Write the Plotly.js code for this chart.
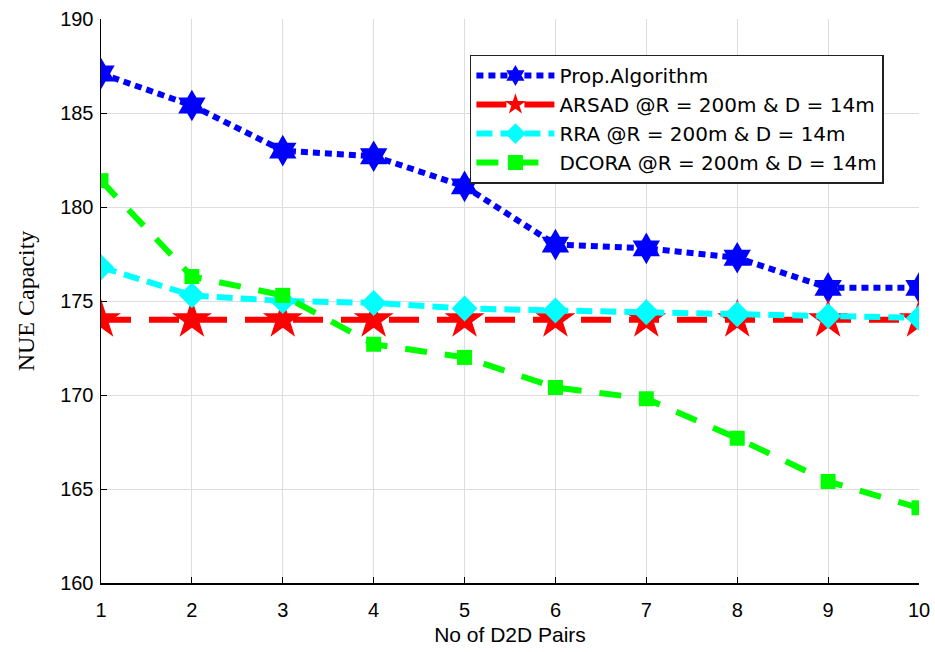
<!DOCTYPE html>
<html>
<head>
<meta charset="utf-8">
<script src="https://cdn.plot.ly/plotly-3.0.1.min.js"></script>
<style>html,body{margin:0;padding:0;background:#fff;}#chart{width:935px;height:652px;}</style>
</head>
<body>
<div id="chart"></div>
<script>
const pairs = [1, 2, 3, 4, 5, 6, 7, 8, 9, 10];
const propAlgorithm = [187.1, 185.4, 183.0, 182.7, 181.1, 178.0, 177.8, 177.3, 175.7, 175.7];
const arsad = [174.0, 174.0, 174.0, 174.0, 174.0, 174.0, 174.0, 174.0, 174.0, 174.0];
const rra = [176.8, 175.3, 175.0, 174.9, 174.6, 174.5, 174.4, 174.3, 174.2, 174.1];
const dcora = [181.4, 176.3, 175.3, 172.7, 172.0, 170.4, 169.8, 167.7, 165.4, 164.0];
const seriesNames = ["Prop.Algorithm", "ARSAD @R = 200m & D = 14m", "RRA @R = 200m & D = 14m", "DCORA @R = 200m & D = 14m"];
const yTicks = [160, 165, 170, 175, 180, 185, 190];

const traces = [
  {x: pairs, y: propAlgorithm, name: seriesNames[0], mode: "lines+markers",
   line: {color: "#0000ff", width: 6, dash: "7px,5px"},
   marker: {symbol: "hexagram", size: 24, color: "#0000ff"}},
  {x: pairs, y: arsad, name: seriesNames[1], mode: "lines+markers",
   line: {color: "#ff0000", width: 6, dash: "30px,18px"},
   marker: {symbol: "star", size: 30, color: "#ff0000"}},
  {x: pairs, y: rra, name: seriesNames[2], mode: "lines+markers",
   line: {color: "#00ffff", width: 6, dash: "16px,8px"},
   marker: {symbol: "diamond", size: 20, color: "#00ffff"}},
  {x: pairs, y: dcora, name: seriesNames[3], mode: "lines+markers",
   line: {color: "#00ff00", width: 6, dash: "22px,18px"},
   marker: {symbol: "square", size: 15, color: "#00ff00"}}
];

const layout = {
  width: 935, height: 652,
  margin: {l: 101, r: 16, t: 19, b: 69},
  paper_bgcolor: "#ffffff", plot_bgcolor: "#ffffff",
  showlegend: true,
  legend: {x: 0.451, y: 0.937, xanchor: "left", yanchor: "top",
    bgcolor: "#ffffff", bordercolor: "#222222", borderwidth: 1.5,
    font: {family: "DejaVu Sans, Arial, sans-serif", size: 20, color: "#000"},
    tracegroupgap: 0, itemwidth: 78},
  xaxis: {range: [1, 10], tickvals: pairs, ticktext: pairs.map(String),
    showgrid: true, gridcolor: "#dddddd", gridwidth: 1,
    showline: true, linecolor: "#000", linewidth: 1.5, mirror: false,
    ticks: "inside", ticklen: 6, tickcolor: "#000", zeroline: false,
    ticklabelstandoff: 8,
    tickfont: {family: "Liberation Sans, Arial, sans-serif", size: 20, color: "#000"},
    title: {text: "No of D2D Pairs", standoff: 8,
      font: {family: "Liberation Sans, Arial, sans-serif", size: 21, color: "#000"}}},
  yaxis: {range: [160, 190], tickvals: yTicks, ticktext: yTicks.map(String),
    showgrid: true, gridcolor: "#dddddd", gridwidth: 1,
    showline: true, linecolor: "#000", linewidth: 1.5, mirror: false,
    ticks: "inside", ticklen: 6, tickcolor: "#000", zeroline: false,
    ticklabelstandoff: 2,
    tickfont: {family: "Liberation Sans, Arial, sans-serif", size: 20, color: "#000"},
    title: {text: "NUE Capacity", standoff: 18,
      font: {family: "Liberation Serif, Times New Roman, serif", size: 24, color: "#000"}}}
};

Plotly.newPlot("chart", traces, layout, {displayModeBar: false, staticPlot: true});
</script>
</body>
</html>
